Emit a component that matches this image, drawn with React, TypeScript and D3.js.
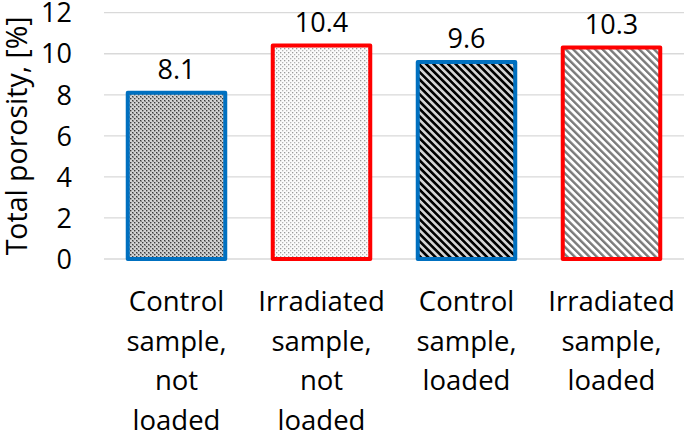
import React from "react";
import * as d3 from "d3";

const categories: string[][] = [
  ["Control", "sample,", "not", "loaded"],
  ["Irradiated", "sample,", "not", "loaded"],
  ["Control", "sample,", "loaded"],
  ["Irradiated", "sample,", "loaded"],
];
const values: number[] = [8.1, 10.4, 9.6, 10.3];
const valueLabels: string[] = ["8.1", "10.4", "9.6", "10.3"];
const yTicks: number[] = [0, 2, 4, 6, 8, 10, 12];
const borderColors: string[] = ["#0070C0", "#FF0000", "#0070C0", "#FF0000"];
const fills: string[] = ["url(#pDense)", "url(#pLight)", "url(#pBlackStripe)", "url(#pGrayStripe)"];
const yTitle = "Total porosity, [%]";

const W = 685;
const H = 437;
const FONT = "'Open Sans', sans-serif";

export default function App() {
  const ids = categories.map((_, i) => String(i));
  const x = d3.scaleBand<string>().domain(ids).range([104, 684]).paddingInner(0.3).paddingOuter(0.15);
  const y = d3.scaleLinear().domain([0, 12]).range([259, 12.7]);
  const bw = x.bandwidth();

  return (
    <svg width={W} height={H} style={{ position: "absolute", left: 0, top: 0, background: "#fff" }}>
      <defs>
        <pattern id="pDense" width={4} height={4} patternUnits="userSpaceOnUse">
          <rect width={4} height={4} fill="#d2d2d2" />
          <rect x={0} y={0} width={1.4} height={1.4} fill="#3c3c3c" />
          <rect x={2} y={2} width={1.4} height={1.4} fill="#3c3c3c" />
          <rect x={1} y={1} width={1} height={1} fill="#8a8a8a" />
        </pattern>
        <pattern id="pLight" width={4} height={4} patternUnits="userSpaceOnUse">
          <rect width={4} height={4} fill="#fbfbfb" />
          <rect x={0} y={0} width={1.3} height={1.3} fill="#9a9a9a" />
          <rect x={2} y={2} width={1.3} height={1.3} fill="#b4b4b4" />
        </pattern>
        <pattern id="pBlackStripe" width={5.2} height={10} patternUnits="userSpaceOnUse" patternTransform="rotate(-45)">
          <rect width={5.2} height={10} fill="#d4d4d4" />
          <rect x={0} width={2.6} height={10} fill="#000" />
        </pattern>
        <pattern id="pGrayStripe" width={5.2} height={10} patternUnits="userSpaceOnUse" patternTransform="rotate(-45)">
          <rect width={5.2} height={10} fill="#fff" />
          <rect x={0} width={2.4} height={10} fill="#7a7a7a" />
        </pattern>
      </defs>

      {yTicks.map((t) => (
        <g key={t}>
          <line x1={104} x2={684} y1={y(t)} y2={y(t)} stroke="#d9d9d9" strokeWidth={1.3} />
          <text x={72} y={y(t)} dy="0.36em" textAnchor="end" fontFamily={FONT} fontSize={27} fill="#000">
            {t}
          </text>
        </g>
      ))}

      <text
        transform={`translate(27, ${(y(0) + y(12)) / 2}) rotate(-90)`}
        textAnchor="middle"
        fontFamily={FONT}
        fontSize={28.5}
        fill="#000"
      >
        {yTitle}
      </text>

      {values.map((v, i) => {
        const x0 = (x(ids[i]) as number) + 2;
        return (
          <g key={i}>
            <rect
              x={x0}
              y={y(v)}
              width={bw - 4}
              height={y(0) - y(v)}
              fill={fills[i]}
              stroke={borderColors[i]}
              strokeWidth={4}
              strokeLinejoin="round"
            />
            <text
              x={x0 + (bw - 4) / 2}
              y={y(v) - 14}
              textAnchor="middle"
              fontFamily={FONT}
              fontSize={27}
              fill="#000"
            >
              {valueLabels[i]}
            </text>
          </g>
        );
      })}

      {categories.map((lines, i) => (
        <text key={i} textAnchor="middle" fontFamily={FONT} fontSize={27.5} fill="#000">
          {lines.map((l, j) => (
            <tspan key={j} x={(x(ids[i]) as number) + bw / 2} y={311 + j * 39.5}>
              {l}
            </tspan>
          ))}
        </text>
      ))}
    </svg>
  );
}
